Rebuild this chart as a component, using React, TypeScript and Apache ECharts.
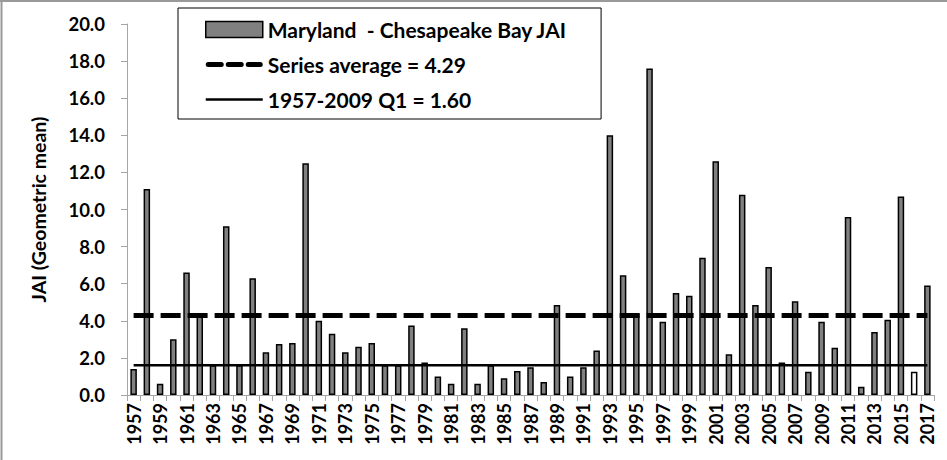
import React, { useEffect, useRef } from "react";
import * as echarts from "echarts";

const years: string[] = [];
for (let y = 1957; y <= 2017; y++) years.push(String(y));

const jaiValues: number[] = [
  1.4, 11.1, 0.6, 3.0, 6.6, 4.25, 1.6, 9.1, 1.6, 6.3,
  2.3, 2.75, 2.8, 12.5, 4.0, 3.3, 2.3, 2.6, 2.8, 1.6,
  1.6, 3.75, 1.75, 1.0, 0.6, 3.6, 0.6, 1.6, 0.9, 1.3,
  1.5, 0.7, 4.85, 1.0, 1.5, 2.4, 14.0, 6.45, 4.4, 17.6,
  3.95, 5.5, 5.35, 7.4, 12.6, 2.2, 10.8, 4.85, 6.9, 1.75,
  5.05, 1.25, 3.95, 2.55, 9.6, 0.45, 3.4, 4.05, 10.7, 1.25,
  5.9,
];

const highlightYear = "2016";
const seriesAverage = 4.29;
const q1Value = 1.6;

const barName = "Maryland  - Chesapeake Bay JAI";
const avgName = "Series average = 4.29";
const q1Name = "1957-2009 Q1 = 1.60";

const FONT = "Lato, 'Open Sans', sans-serif";

const dashedIcon = "path://M2.5,0h13a2.5,2.5 0 0 1 0,5h-13a2.5,2.5 0 0 1 0,-5z M22.5,0h13a2.5,2.5 0 0 1 0,5h-13a2.5,2.5 0 0 1 0,-5z M42.5,0h12a2.5,2.5 0 0 1 0,5h-12a2.5,2.5 0 0 1 0,-5z";
const solidIcon = "path://M0,0h57v2.5h-57z";

export default function App() {
  const ref = useRef<HTMLDivElement>(null);

  useEffect(() => {
    if (!ref.current) return;
    const chart = echarts.init(ref.current, undefined, { renderer: "svg" });
    const barData = jaiValues.map((v, i) =>
      years[i] === highlightYear
        ? { value: v, itemStyle: { color: "#ffffff", borderColor: "#000", borderWidth: 1.5 } }
        : v
    );
    chart.setOption({
      animation: false,
      backgroundColor: "#ffffff",
      textStyle: { fontFamily: FONT },
      grid: { left: 127, right: 13, top: 24, bottom: 65, containLabel: false },
      legend: {
        orient: "vertical",
        left: 178,
        top: 8,
        padding: [11, 34, 9, 27],
        itemGap: 14,
        itemWidth: 57,
        itemHeight: 16,
        backgroundColor: "#fff",
        borderColor: "#000",
        borderWidth: 1,
        textStyle: { fontSize: 21, fontWeight: "bold", color: "#000", fontFamily: FONT },
        data: [
          { name: barName, icon: "rect", itemStyle: { color: "#808080", borderColor: "#000", borderWidth: 1.5 } },
          { name: avgName, icon: dashedIcon, itemStyle: { color: "#000", borderWidth: 0 } },
          { name: q1Name, icon: solidIcon, itemStyle: { color: "#000", borderWidth: 0 } },
        ],
      },
      xAxis: {
        type: "category",
        data: years,
        boundaryGap: true,
        axisLine: { lineStyle: { color: "#a6a6a6", width: 1 } },
        axisTick: { show: true, alignWithLabel: false, interval: 0, length: 6, lineStyle: { color: "#a6a6a6" } },
        axisLabel: {
          interval: 1,
          rotate: 90,
          margin: 8,
          fontSize: 18,
          fontWeight: "bold",
          color: "#000",
          fontFamily: FONT,
        },
      },
      yAxis: {
        type: "value",
        min: 0,
        max: 20,
        interval: 2,
        name: "JAI (Geometric mean)",
        nameLocation: "middle",
        nameRotate: 90,
        nameGap: 79,
        nameTextStyle: { fontSize: 19.5, fontWeight: "bold", color: "#000", fontFamily: FONT },
        axisLine: { show: true, lineStyle: { color: "#a6a6a6", width: 1 } },
        axisTick: { show: true, length: 6, lineStyle: { color: "#a6a6a6" } },
        splitLine: { show: false },
        axisLabel: {
          margin: 22,
          fontSize: 18.5,
          fontWeight: "bold",
          color: "#000",
          fontFamily: FONT,
          formatter: (v: number) => v.toFixed(1),
        },
      },
      series: [
        {
          name: barName,
          type: "bar",
          data: barData,
          barWidth: 6.5,
          itemStyle: { color: "#808080", borderColor: "#000", borderWidth: 1.5 },
          z: 2,
        },
        {
          name: avgName,
          type: "line",
          data: years.map(() => seriesAverage),
          symbol: "none",
          lineStyle: { color: "#000", width: 5, type: [20, 7] },
          itemStyle: { color: "#000" },
          z: 3,
        },
        {
          name: q1Name,
          type: "line",
          data: years.map(() => q1Value),
          symbol: "none",
          lineStyle: { color: "#000", width: 2.5 },
          itemStyle: { color: "#000" },
          z: 3,
        },
      ],
      graphic: [
        { type: "line", shape: { x1: 1.5, y1: 0, x2: 1.5, y2: 460 }, style: { stroke: "#999", lineWidth: 2 } },
        { type: "line", shape: { x1: 0, y1: 1, x2: 947, y2: 1 }, style: { stroke: "#999", lineWidth: 2 } },
      ],
    });
    return () => chart.dispose();
  }, []);

  return (
    <div
      ref={ref}
      style={{ position: "fixed", left: 0, top: 0, width: 947, height: 460 }}
    />
  );
}
